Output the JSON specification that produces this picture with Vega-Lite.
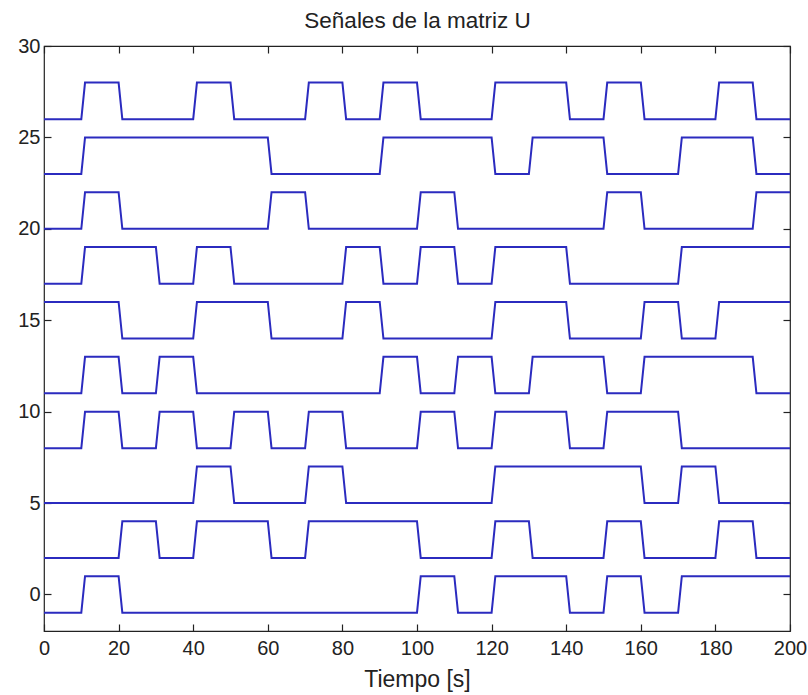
{
  "$schema": "https://vega.github.io/schema/vega-lite/v6.json",
  "width": 746,
  "height": 585,
  "autosize": {"type": "none"},
  "padding": {"left": 44, "top": 46, "right": 18, "bottom": 64},
  "background": "white",
  "datasets": {
    "signals": [
      {"s": "u1", "t": 0, "v": -1}, {"s": "u1", "t": 10, "v": -1}, {"s": "u1", "t": 11, "v": 1}, {"s": "u1", "t": 20, "v": 1}, {"s": "u1", "t": 21, "v": -1}, {"s": "u1", "t": 100, "v": -1}, {"s": "u1", "t": 101, "v": 1}, {"s": "u1", "t": 110, "v": 1}, {"s": "u1", "t": 111, "v": -1}, {"s": "u1", "t": 120, "v": -1}, {"s": "u1", "t": 121, "v": 1}, {"s": "u1", "t": 140, "v": 1}, {"s": "u1", "t": 141, "v": -1}, {"s": "u1", "t": 150, "v": -1}, {"s": "u1", "t": 151, "v": 1}, {"s": "u1", "t": 160, "v": 1}, {"s": "u1", "t": 161, "v": -1}, {"s": "u1", "t": 170, "v": -1}, {"s": "u1", "t": 171, "v": 1}, {"s": "u1", "t": 200, "v": 1},

      {"s": "u2", "t": 0, "v": 2}, {"s": "u2", "t": 20, "v": 2}, {"s": "u2", "t": 21, "v": 4}, {"s": "u2", "t": 30, "v": 4}, {"s": "u2", "t": 31, "v": 2}, {"s": "u2", "t": 40, "v": 2}, {"s": "u2", "t": 41, "v": 4}, {"s": "u2", "t": 60, "v": 4}, {"s": "u2", "t": 61, "v": 2}, {"s": "u2", "t": 70, "v": 2}, {"s": "u2", "t": 71, "v": 4}, {"s": "u2", "t": 100, "v": 4}, {"s": "u2", "t": 101, "v": 2}, {"s": "u2", "t": 120, "v": 2}, {"s": "u2", "t": 121, "v": 4}, {"s": "u2", "t": 130, "v": 4}, {"s": "u2", "t": 131, "v": 2}, {"s": "u2", "t": 150, "v": 2}, {"s": "u2", "t": 151, "v": 4}, {"s": "u2", "t": 160, "v": 4}, {"s": "u2", "t": 161, "v": 2}, {"s": "u2", "t": 180, "v": 2}, {"s": "u2", "t": 181, "v": 4}, {"s": "u2", "t": 190, "v": 4}, {"s": "u2", "t": 191, "v": 2}, {"s": "u2", "t": 200, "v": 2},

      {"s": "u3", "t": 0, "v": 5}, {"s": "u3", "t": 40, "v": 5}, {"s": "u3", "t": 41, "v": 7}, {"s": "u3", "t": 50, "v": 7}, {"s": "u3", "t": 51, "v": 5}, {"s": "u3", "t": 70, "v": 5}, {"s": "u3", "t": 71, "v": 7}, {"s": "u3", "t": 80, "v": 7}, {"s": "u3", "t": 81, "v": 5}, {"s": "u3", "t": 120, "v": 5}, {"s": "u3", "t": 121, "v": 7}, {"s": "u3", "t": 160, "v": 7}, {"s": "u3", "t": 161, "v": 5}, {"s": "u3", "t": 170, "v": 5}, {"s": "u3", "t": 171, "v": 7}, {"s": "u3", "t": 180, "v": 7}, {"s": "u3", "t": 181, "v": 5}, {"s": "u3", "t": 200, "v": 5},

      {"s": "u4", "t": 0, "v": 8}, {"s": "u4", "t": 10, "v": 8}, {"s": "u4", "t": 11, "v": 10}, {"s": "u4", "t": 20, "v": 10}, {"s": "u4", "t": 21, "v": 8}, {"s": "u4", "t": 30, "v": 8}, {"s": "u4", "t": 31, "v": 10}, {"s": "u4", "t": 40, "v": 10}, {"s": "u4", "t": 41, "v": 8}, {"s": "u4", "t": 50, "v": 8}, {"s": "u4", "t": 51, "v": 10}, {"s": "u4", "t": 60, "v": 10}, {"s": "u4", "t": 61, "v": 8}, {"s": "u4", "t": 70, "v": 8}, {"s": "u4", "t": 71, "v": 10}, {"s": "u4", "t": 80, "v": 10}, {"s": "u4", "t": 81, "v": 8}, {"s": "u4", "t": 100, "v": 8}, {"s": "u4", "t": 101, "v": 10}, {"s": "u4", "t": 110, "v": 10}, {"s": "u4", "t": 111, "v": 8}, {"s": "u4", "t": 120, "v": 8}, {"s": "u4", "t": 121, "v": 10}, {"s": "u4", "t": 140, "v": 10}, {"s": "u4", "t": 141, "v": 8}, {"s": "u4", "t": 150, "v": 8}, {"s": "u4", "t": 151, "v": 10}, {"s": "u4", "t": 170, "v": 10}, {"s": "u4", "t": 171, "v": 8}, {"s": "u4", "t": 200, "v": 8},

      {"s": "u5", "t": 0, "v": 11}, {"s": "u5", "t": 10, "v": 11}, {"s": "u5", "t": 11, "v": 13}, {"s": "u5", "t": 20, "v": 13}, {"s": "u5", "t": 21, "v": 11}, {"s": "u5", "t": 30, "v": 11}, {"s": "u5", "t": 31, "v": 13}, {"s": "u5", "t": 40, "v": 13}, {"s": "u5", "t": 41, "v": 11}, {"s": "u5", "t": 90, "v": 11}, {"s": "u5", "t": 91, "v": 13}, {"s": "u5", "t": 100, "v": 13}, {"s": "u5", "t": 101, "v": 11}, {"s": "u5", "t": 110, "v": 11}, {"s": "u5", "t": 111, "v": 13}, {"s": "u5", "t": 120, "v": 13}, {"s": "u5", "t": 121, "v": 11}, {"s": "u5", "t": 130, "v": 11}, {"s": "u5", "t": 131, "v": 13}, {"s": "u5", "t": 150, "v": 13}, {"s": "u5", "t": 151, "v": 11}, {"s": "u5", "t": 160, "v": 11}, {"s": "u5", "t": 161, "v": 13}, {"s": "u5", "t": 190, "v": 13}, {"s": "u5", "t": 191, "v": 11}, {"s": "u5", "t": 200, "v": 11},

      {"s": "u6", "t": 0, "v": 16}, {"s": "u6", "t": 20, "v": 16}, {"s": "u6", "t": 21, "v": 14}, {"s": "u6", "t": 40, "v": 14}, {"s": "u6", "t": 41, "v": 16}, {"s": "u6", "t": 60, "v": 16}, {"s": "u6", "t": 61, "v": 14}, {"s": "u6", "t": 80, "v": 14}, {"s": "u6", "t": 81, "v": 16}, {"s": "u6", "t": 90, "v": 16}, {"s": "u6", "t": 91, "v": 14}, {"s": "u6", "t": 120, "v": 14}, {"s": "u6", "t": 121, "v": 16}, {"s": "u6", "t": 140, "v": 16}, {"s": "u6", "t": 141, "v": 14}, {"s": "u6", "t": 160, "v": 14}, {"s": "u6", "t": 161, "v": 16}, {"s": "u6", "t": 170, "v": 16}, {"s": "u6", "t": 171, "v": 14}, {"s": "u6", "t": 180, "v": 14}, {"s": "u6", "t": 181, "v": 16}, {"s": "u6", "t": 200, "v": 16},

      {"s": "u7", "t": 0, "v": 17}, {"s": "u7", "t": 10, "v": 17}, {"s": "u7", "t": 11, "v": 19}, {"s": "u7", "t": 30, "v": 19}, {"s": "u7", "t": 31, "v": 17}, {"s": "u7", "t": 40, "v": 17}, {"s": "u7", "t": 41, "v": 19}, {"s": "u7", "t": 50, "v": 19}, {"s": "u7", "t": 51, "v": 17}, {"s": "u7", "t": 80, "v": 17}, {"s": "u7", "t": 81, "v": 19}, {"s": "u7", "t": 90, "v": 19}, {"s": "u7", "t": 91, "v": 17}, {"s": "u7", "t": 100, "v": 17}, {"s": "u7", "t": 101, "v": 19}, {"s": "u7", "t": 110, "v": 19}, {"s": "u7", "t": 111, "v": 17}, {"s": "u7", "t": 120, "v": 17}, {"s": "u7", "t": 121, "v": 19}, {"s": "u7", "t": 140, "v": 19}, {"s": "u7", "t": 141, "v": 17}, {"s": "u7", "t": 170, "v": 17}, {"s": "u7", "t": 171, "v": 19}, {"s": "u7", "t": 200, "v": 19},

      {"s": "u8", "t": 0, "v": 20}, {"s": "u8", "t": 10, "v": 20}, {"s": "u8", "t": 11, "v": 22}, {"s": "u8", "t": 20, "v": 22}, {"s": "u8", "t": 21, "v": 20}, {"s": "u8", "t": 60, "v": 20}, {"s": "u8", "t": 61, "v": 22}, {"s": "u8", "t": 70, "v": 22}, {"s": "u8", "t": 71, "v": 20}, {"s": "u8", "t": 100, "v": 20}, {"s": "u8", "t": 101, "v": 22}, {"s": "u8", "t": 110, "v": 22}, {"s": "u8", "t": 111, "v": 20}, {"s": "u8", "t": 150, "v": 20}, {"s": "u8", "t": 151, "v": 22}, {"s": "u8", "t": 160, "v": 22}, {"s": "u8", "t": 161, "v": 20}, {"s": "u8", "t": 190, "v": 20}, {"s": "u8", "t": 191, "v": 22}, {"s": "u8", "t": 200, "v": 22},

      {"s": "u9", "t": 0, "v": 23}, {"s": "u9", "t": 10, "v": 23}, {"s": "u9", "t": 11, "v": 25}, {"s": "u9", "t": 60, "v": 25}, {"s": "u9", "t": 61, "v": 23}, {"s": "u9", "t": 90, "v": 23}, {"s": "u9", "t": 91, "v": 25}, {"s": "u9", "t": 120, "v": 25}, {"s": "u9", "t": 121, "v": 23}, {"s": "u9", "t": 130, "v": 23}, {"s": "u9", "t": 131, "v": 25}, {"s": "u9", "t": 150, "v": 25}, {"s": "u9", "t": 151, "v": 23}, {"s": "u9", "t": 170, "v": 23}, {"s": "u9", "t": 171, "v": 25}, {"s": "u9", "t": 190, "v": 25}, {"s": "u9", "t": 191, "v": 23}, {"s": "u9", "t": 200, "v": 23},

      {"s": "u10", "t": 0, "v": 26}, {"s": "u10", "t": 10, "v": 26}, {"s": "u10", "t": 11, "v": 28}, {"s": "u10", "t": 20, "v": 28}, {"s": "u10", "t": 21, "v": 26}, {"s": "u10", "t": 40, "v": 26}, {"s": "u10", "t": 41, "v": 28}, {"s": "u10", "t": 50, "v": 28}, {"s": "u10", "t": 51, "v": 26}, {"s": "u10", "t": 70, "v": 26}, {"s": "u10", "t": 71, "v": 28}, {"s": "u10", "t": 80, "v": 28}, {"s": "u10", "t": 81, "v": 26}, {"s": "u10", "t": 90, "v": 26}, {"s": "u10", "t": 91, "v": 28}, {"s": "u10", "t": 100, "v": 28}, {"s": "u10", "t": 101, "v": 26}, {"s": "u10", "t": 120, "v": 26}, {"s": "u10", "t": 121, "v": 28}, {"s": "u10", "t": 140, "v": 28}, {"s": "u10", "t": 141, "v": 26}, {"s": "u10", "t": 150, "v": 26}, {"s": "u10", "t": 151, "v": 28}, {"s": "u10", "t": 160, "v": 28}, {"s": "u10", "t": 161, "v": 26}, {"s": "u10", "t": 180, "v": 26}, {"s": "u10", "t": 181, "v": 28}, {"s": "u10", "t": 190, "v": 28}, {"s": "u10", "t": 191, "v": 26}, {"s": "u10", "t": 200, "v": 26}
    ]
  },
  "data": {"name": "signals"},
  "config": {
    "view": {"stroke": "#222222", "strokeWidth": 1.2},
    "axis": {
      "grid": false,
      "domain": false,
      "tickColor": "#222222",
      "tickWidth": 1.2,
      "tickSize": 7,
      "offset": -7,
      "labelFont": "Liberation Sans",
      "labelFontSize": 20,
      "labelColor": "#222222",
      "labelFlush": false,
      "titleFont": "Liberation Sans",
      "titleFontWeight": "normal",
      "titleColor": "#222222"
    }
  },
  "resolve": {"axis": {"x": "independent", "y": "independent"}},
  "layer": [
    {
      "mark": {"type": "line", "color": "#2b2bbf", "strokeWidth": 2, "clip": true},
      "encoding": {
        "x": {
          "field": "t", "type": "quantitative",
          "scale": {"domain": [0, 200], "nice": false, "zero": false},
          "axis": {
            "orient": "bottom",
            "values": [0, 20, 40, 60, 80, 100, 120, 140, 160, 180, 200],
            "labelPadding": 7,
            "title": "Tiempo [s]",
            "titleFontSize": 23,
            "titleBaseline": "alphabetic",
            "titleY": 62
          }
        },
        "y": {
          "field": "v", "type": "quantitative",
          "scale": {"domain": [-2, 30], "nice": false, "zero": false},
          "axis": {
            "orient": "left",
            "values": [0, 5, 10, 15, 20, 25, 30],
            "labelPadding": 4,
            "title": null
          }
        },
        "detail": {"field": "s", "type": "nominal"}
      }
    },
    {
      "mark": {"type": "line", "opacity": 0},
      "encoding": {
        "x": {
          "field": "t", "type": "quantitative",
          "axis": {
            "orient": "top",
            "values": [0, 20, 40, 60, 80, 100, 120, 140, 160, 180, 200],
            "labels": false,
            "title": "Señales de la matriz U",
            "titleFontSize": 22.5,
            "titleBaseline": "alphabetic",
            "titleY": -26
          }
        },
        "y": {
          "field": "v", "type": "quantitative",
          "axis": {
            "orient": "right",
            "values": [0, 5, 10, 15, 20, 25, 30],
            "labels": false,
            "title": null
          }
        },
        "detail": {"field": "s", "type": "nominal"}
      }
    }
  ]
}
